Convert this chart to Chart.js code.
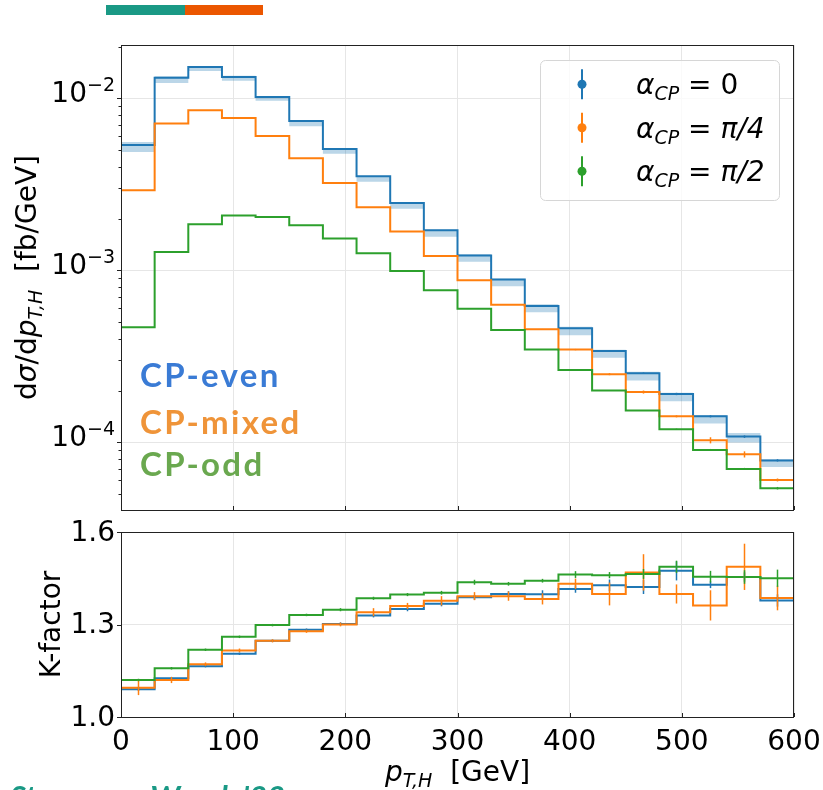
<!DOCTYPE html>
<html><head><meta charset="utf-8">
<script src="https://cdn.jsdelivr.net/npm/chart.js@4.4.1/dist/chart.umd.min.js"></script>
<style>
html,body{margin:0;padding:0;background:#fff;}
#wrap{position:relative;width:823px;height:790px;overflow:hidden;background:#fff;}
canvas{position:absolute;left:0;top:0;}
.bar{position:absolute;top:5px;height:10px;}
</style></head><body>
<div id="wrap">
<div class="bar" style="left:106px;width:79px;background:#1a9985"></div>
<div class="bar" style="left:185px;width:78px;background:#eb5600"></div>
<canvas id="top" width="823" height="790"></canvas>
<canvas id="bot" width="823" height="790"></canvas>
</div>
<script>
// ---------------- data ----------------
const binEdges = [0,30,60,90,120,150,180,210,240,270,300,330,360,390,420,450,480,510,540,570,600];
const xTicks = [0,100,200,300,400,500,600];
const topMajorExps = [-2,-3,-4];
const kTicks = [1.0,1.3,1.6];
const kTickLabels = ['1.0','1.3','1.6'];
const seriesNames = ['0','\u03c0/4','\u03c0/2'];
const cpLabels = ['CP-even','CP-mixed','CP-odd'];

// d sigma / d pT,H  [fb/GeV]
const xsecA0 = [0.00535,0.01318,0.0152,0.0133,0.01018,0.00738,0.00507,0.00352,0.00246,0.00171,0.00122,0.000883,0.000621,0.00046,0.00034,0.000252,0.000191,0.0001416,0.0001079,0.0000785];
const bandA0Low = [0.00488,0.01227,0.01443,0.01264,0.00967,0.00687,0.00476,0.00327,0.00228,0.001567,0.00112,0.000807,0.00057,0.000419,0.00031,0.000229,0.000173,0.0001285,0.0000996,0.0000718];
const bandA0High = [0.00557,0.01342,0.01542,0.01352,0.01027,0.00745,0.00512,0.00354,0.00248,0.00172,0.00124,0.000893,0.000634,0.000469,0.000345,0.000257,0.000194,0.0001435,0.0001132,0.0000796];
const xsecA4 = [0.00292,0.00713,0.00852,0.00768,0.00604,0.00448,0.00322,0.00233,0.00168,0.00121,0.000875,0.000631,0.000454,0.000346,0.000249,0.000196,0.0001416,0.0001028,0.0000851,0.0000604];
const xsecA2 = [0.000466,0.001277,0.00185,0.00208,0.00204,0.00183,0.00153,0.001256,0.00099,0.000765,0.000598,0.00045,0.000346,0.000263,0.0002,0.000153,0.000119,0.0000903,0.00007,0.0000541];
const xsecErrA0 = [0,0,0,0,0,0,0,0,0,0,0,0,0,0.0000015,0.000002,0.0000025,0.000003,0.000002,0.0000018,0.0000012];
const xsecErrA4 = [0,0,0,0,0,0,0,0,0,0,0,0,0.000002,0.000003,0.0000034,0.000004,0.0000019,0.0000042,0.0000035,0.0000012];
const xsecErrA2 = [0,0,0,0,0,0,0,0,0,0,0,0,0,0,0,0,0.000001,0.0000012,0.000001,0.0000009];

// K-factor
const kA0 = [1.090,1.126,1.165,1.205,1.247,1.283,1.302,1.329,1.350,1.367,1.388,1.399,1.398,1.415,1.427,1.422,1.474,1.429,1.454,1.378];
const kA4 = [1.095,1.120,1.171,1.216,1.247,1.278,1.300,1.340,1.360,1.377,1.392,1.392,1.383,1.432,1.399,1.469,1.399,1.362,1.487,1.386];
const kA2 = [1.120,1.158,1.218,1.260,1.298,1.331,1.348,1.385,1.397,1.403,1.437,1.432,1.442,1.462,1.460,1.464,1.487,1.455,1.454,1.450];
const kErrA0 = [0.006,0.004,0.004,0.004,0.004,0.004,0.005,0.006,0.007,0.008,0.008,0.009,0.013,0.012,0.019,0.023,0.031,0.011,0.015,0.020];
const kErrA4 = [0.024,0.010,0.006,0.006,0.005,0.005,0.006,0.013,0.010,0.015,0.013,0.015,0.018,0.017,0.037,0.059,0.031,0.049,0.075,0.040];
const kErrA2 = [0.004,0.004,0.004,0.004,0.004,0.004,0.005,0.005,0.005,0.006,0.008,0.006,0.006,0.011,0.010,0.016,0.020,0.019,0.022,0.028];

const topYMin = 4.04e-5, topYMax = 0.02042;
const kMin = 1.0, kMax = 1.6;

// ---------------- style ----------------
const C0 = '#1f77b4', C4 = '#ff7f0e', C2 = '#2ca02c';
const CPcolors = ['#3a7bd5','#ef9439','#6aa84f'];
const GRID = '#e6e6e6';
const FONT = '"DejaVu Sans"';
const N28 = '28px ' + FONT, I28 = 'italic 28px ' + FONT, S19 = '19px ' + FONT, IS19 = 'italic 19px ' + FONT;

function stepPts(vals, floor) {
  const pts = [];
  const last = binEdges[binEdges.length - 1];
  if (floor !== undefined) pts.push({x: binEdges[0], y: floor});
  vals.forEach((v, i) => pts.push({x: binEdges[i], y: v}));
  pts.push({x: last, y: vals[vals.length - 1]});
  if (floor !== undefined) pts.push({x: last, y: floor});
  return pts;
}
function lineDS(data, color, order, extra) {
  return Object.assign({data, borderColor: color, borderWidth: 2, stepped: 'before', fill: false,
    pointRadius: 0, order, borderJoinStyle: 'miter', borderCapStyle: 'butt'}, extra || {});
}
function rich(ctx, segs, x, y, align) {
  let w = 0;
  segs.forEach(s => { ctx.font = s.f; s.w = ctx.measureText(s.t).width; w += s.w; });
  let cx = align === 'right' ? x - w : align === 'center' ? x - w / 2 : x;
  ctx.textAlign = 'left';
  segs.forEach(s => { ctx.font = s.f; ctx.fillText(s.t, cx, y + (s.dy || 0)); cx += s.w; });
  return w;
}
function errBars(chart, sets) {
  const ctx = chart.ctx, xs = chart.scales.x, ys = chart.scales.y, a = chart.chartArea;
  ctx.save();
  ctx.beginPath(); ctx.rect(a.left, a.top, a.right - a.left, a.bottom - a.top); ctx.clip();
  ctx.lineWidth = 1.5;
  sets.forEach(([vals, errs, col]) => {
    ctx.strokeStyle = col;
    vals.forEach((v, i) => {
      if (!errs[i]) return;
      const cx = Math.round(xs.getPixelForValue((binEdges[i] + binEdges[i + 1]) / 2)) + 0.5;
      ctx.beginPath();
      ctx.moveTo(cx, ys.getPixelForValue(v - errs[i]));
      ctx.lineTo(cx, ys.getPixelForValue(v + errs[i]));
      ctx.stroke();
    });
  });
  ctx.restore();
}
function frame(chart) {
  const ctx = chart.ctx, a = chart.chartArea;
  ctx.save();
  ctx.strokeStyle = '#222'; ctx.lineWidth = 1;
  ctx.strokeRect(a.left + 0.5, a.top + 0.5, a.right - a.left - 1, a.bottom - a.top);
  const xs = chart.scales.x;
  ctx.beginPath();
  xTicks.forEach(t => { const px = Math.round(xs.getPixelForValue(t)) + 0.5; ctx.moveTo(px, a.bottom); ctx.lineTo(px, a.bottom - 4); });
  ctx.stroke();
  ctx.restore();
}
const baseOpts = (pad) => ({
  responsive: false, animation: false, devicePixelRatio: 1,
  layout: {padding: pad},
  plugins: {legend: {display: false}, tooltip: {enabled: false}},
  events: [],
});

// ---------------- top panel ----------------
const topPlugin = {
  id: 'topDeco',
  afterDatasetsDraw(chart) {
    errBars(chart, [[xsecA0, xsecErrA0, C0], [xsecA4, xsecErrA4, C4], [xsecA2, xsecErrA2, C2]]);
  },
  afterDraw(chart) {
    const ctx = chart.ctx, a = chart.chartArea, ys = chart.scales.y;
    frame(chart);
    ctx.save();
    ctx.strokeStyle = '#222'; ctx.lineWidth = 1;
    ctx.beginPath();
    for (let e = -5; e <= -1; e++) {
      for (let m = 1; m <= 9; m++) {
        const v = m * Math.pow(10, e);
        if (v < topYMin || v > topYMax) continue;
        const py = Math.round(ys.getPixelForValue(v)) + 0.5;
        ctx.moveTo(a.left, py); ctx.lineTo(a.left - (m === 1 ? 4 : 2.5), py);
      }
    }
    ctx.stroke();
    ctx.fillStyle = '#000';
    ctx.textBaseline = 'alphabetic';
    topMajorExps.forEach(e => {
      const py = ys.getPixelForValue(Math.pow(10, e));
      rich(ctx, [{t: '10', f: N28}, {t: '\u2212' + Math.abs(e), f: S19, dy: -10.7}], 115, py + 3.4, 'right');
    });
    // y title
    ctx.save();
    ctx.translate(36, (a.top + a.bottom) / 2);
    ctx.rotate(-Math.PI / 2);
    rich(ctx, [{t: 'd', f: N28}, {t: '\u03c3', f: I28}, {t: '/d', f: N28}, {t: 'p', f: I28},
      {t: 'T,H', f: IS19, dy: 6}, {t: '  [fb/GeV]', f: N28}], 0, 0, 'center');
    ctx.restore();
    // CP labels
    ctx.save();
    ctx.font = 'bold 33px Lato';
    ctx.letterSpacing = '2.3px';
    ctx.textAlign = 'left';
    const cpY = [387, 433.5, 476];
    cpLabels.forEach((t, i) => { ctx.fillStyle = CPcolors[i]; ctx.fillText(t, 140, cpY[i]); });
    ctx.restore();
    // legend
    ctx.beginPath();
    ctx.roundRect(540.5, 60.5, 239, 140, 5);
    ctx.fillStyle = 'rgba(255,255,255,0.8)'; ctx.fill();
    ctx.strokeStyle = '#d6d6d6'; ctx.lineWidth = 1; ctx.stroke();
    const rows = [84.3, 127.7, 171.3], cols = [C0, C4, C2];
    rows.forEach((ry, i) => {
      ctx.strokeStyle = cols[i]; ctx.fillStyle = cols[i]; ctx.lineWidth = 2;
      ctx.beginPath(); ctx.moveTo(582, ry - 15); ctx.lineTo(582, ry + 15); ctx.stroke();
      ctx.beginPath(); ctx.arc(582, ry, 4.5, 0, Math.PI * 2); ctx.fill();
      ctx.fillStyle = '#000';
      rich(ctx, [{t: '\u03b1', f: I28}, {t: 'CP', f: IS19, dy: 6}, {t: ' = ', f: N28}, {t: seriesNames[i], f: i ? I28 : N28}], 636, ry + 10, 'left');
    });
    ctx.restore();
  }
};

new Chart(document.getElementById('top'), {
  type: 'line',
  data: {datasets: [
    lineDS(stepPts(bandA0High), 'rgba(0,0,0,0)', 10, {borderWidth: 0}),
    lineDS(stepPts(bandA0Low), 'rgba(0,0,0,0)', 9, {borderWidth: 0, fill: '-1', backgroundColor: 'rgba(31,119,180,0.3)'}),
    lineDS(stepPts(xsecA0, topYMin), C0, 3),
    lineDS(stepPts(xsecA4, topYMin), C4, 2),
    lineDS(stepPts(xsecA2, topYMin), C2, 1),
  ]},
  options: Object.assign(baseOpts({left: 121, right: 29, top: 45, bottom: 280}), {
    scales: {
      x: {type: 'linear', min: 0, max: 600, afterFit: s => { s.height = 0; },
        afterBuildTicks: s => { s.ticks = xTicks.map(v => ({value: v})); },
        ticks: {display: false}, grid: {color: GRID, lineWidth: 1, drawTicks: false}, border: {display: false}},
      y: {type: 'logarithmic', min: topYMin, max: topYMax, afterFit: s => { s.width = 0; },
        afterBuildTicks: s => { s.ticks = topMajorExps.map(e => ({value: Math.pow(10, e)})); },
        ticks: {display: false}, grid: {color: GRID, lineWidth: 1, drawTicks: false}, border: {display: false}},
    }
  }),
  plugins: [topPlugin]
});

// ---------------- bottom panel ----------------
const botPlugin = {
  id: 'botDeco',
  afterDatasetsDraw(chart) {
    errBars(chart, [[kA0, kErrA0, C0], [kA4, kErrA4, C4], [kA2, kErrA2, C2]]);
  },
  afterDraw(chart) {
    const ctx = chart.ctx, a = chart.chartArea, ys = chart.scales.y, xs = chart.scales.x;
    frame(chart);
    ctx.save();
    ctx.strokeStyle = '#222'; ctx.lineWidth = 1;
    ctx.beginPath();
    kTicks.forEach(t => { const py = Math.round(ys.getPixelForValue(t)) + 0.5; ctx.moveTo(a.left, py); ctx.lineTo(a.left - 4, py); });
    ctx.stroke();
    ctx.fillStyle = '#000';
    ctx.font = N28; ctx.textAlign = 'right'; ctx.textBaseline = 'middle';
    kTicks.forEach((t, i) => ctx.fillText(kTickLabels[i], 115, ys.getPixelForValue(t) + 1.5));
    ctx.textAlign = 'center'; ctx.textBaseline = 'alphabetic';
    xTicks.forEach(t => ctx.fillText(String(t), xs.getPixelForValue(t), 750));
    // x title
    rich(ctx, [{t: 'p', f: I28}, {t: 'T,H', f: IS19, dy: 6}, {t: '  [GeV]', f: N28}], (a.left + a.right) / 2, 781, 'center');
    // y title
    ctx.save();
    ctx.translate(60, (a.top + a.bottom) / 2);
    ctx.rotate(-Math.PI / 2);
    ctx.font = N28; ctx.textAlign = 'center';
    ctx.fillText('K-factor', 0, 0);
    ctx.restore();
    // citation (cut off at bottom edge)
    ctx.font = 'italic bold 31px Lato';
    ctx.fillStyle = '#1a9985'; ctx.textAlign = 'left';
    ctx.fillText("Stremmer, Worek '22", 10, 808);
    ctx.restore();
  }
};

new Chart(document.getElementById('bot'), {
  type: 'line',
  data: {datasets: [
    lineDS(stepPts(kA0, 0), C0, 3),
    lineDS(stepPts(kA4, 0), C4, 2),
    lineDS(stepPts(kA2, 0), C2, 1),
  ]},
  options: Object.assign(baseOpts({left: 121, right: 29, top: 532, bottom: 73}), {
    scales: {
      x: {type: 'linear', min: 0, max: 600, afterFit: s => { s.height = 0; },
        afterBuildTicks: s => { s.ticks = xTicks.map(v => ({value: v})); },
        ticks: {display: false}, grid: {color: GRID, lineWidth: 1, drawTicks: false}, border: {display: false}},
      y: {type: 'linear', min: kMin, max: kMax, afterFit: s => { s.width = 0; },
        afterBuildTicks: s => { s.ticks = kTicks.map(v => ({value: v})); },
        ticks: {display: false}, grid: {color: GRID, lineWidth: 1, drawTicks: false}, border: {display: false}},
    }
  }),
  plugins: [botPlugin]
});
</script>
</body></html>
